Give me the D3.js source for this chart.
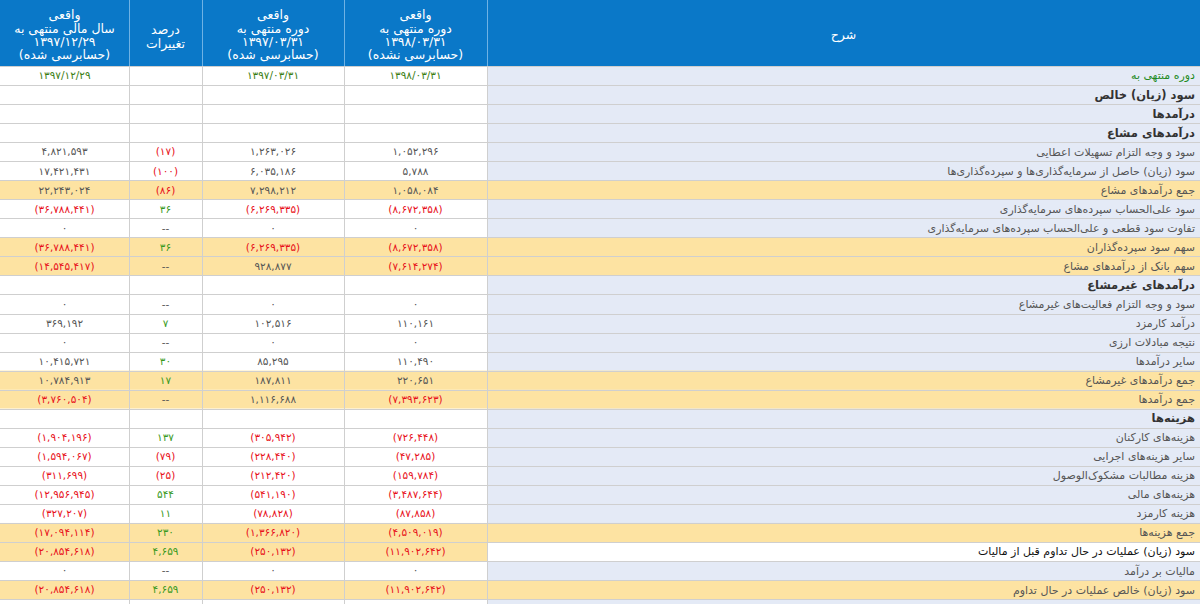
<!DOCTYPE html>
<html><head><meta charset="utf-8">
<script src="https://cdn.jsdelivr.net/npm/d3@7/dist/d3.min.js"></script>
<style>
html,body{margin:0;padding:0;background:#fff;overflow:hidden}
svg{display:block}
text{font-family:"DejaVu Sans","Noto Sans",sans-serif}
</style></head><body>
<svg id="chart" width="1200" height="604"></svg>
<script>
// ---------- data ----------
const columns = ["year", "pct", "prev", "cur", "label"];
const headers = [
  ["واقعی", "سال مالی منتهی به", "۱۳۹۷/۱۲/۲۹", "(حسابرسی شده)"],
  ["درصد", "تغییرات"],
  ["واقعی", "دوره منتهی به", "۱۳۹۷/۰۳/۳۱", "(حسابرسی شده)"],
  ["واقعی", "دوره منتهی به", "۱۳۹۸/۰۳/۳۱", "(حسابرسی نشده)"],
  ["شرح"]
];
const periodDates = { year: "۱۳۹۷/۱۲/۲۹", pct: "", prev: "۱۳۹۷/۰۳/۳۱", cur: "۱۳۹۸/۰۳/۳۱" };
const labels = [
  "دوره منتهی به",
  "سود (زیان) خالص",
  "درآمدها",
  "درآمدهای مشاع",
  "سود و وجه التزام تسهیلات اعطایی",
  "سود (زیان) حاصل از سرمایه‌گذاری‌ها و سپرده‌گذاری‌ها",
  "جمع درآمدهای مشاع",
  "سود علی‌الحساب سپرده‌های سرمایه‌گذاری",
  "تفاوت سود قطعی و علی‌الحساب سپرده‌های سرمایه‌گذاری",
  "سهم سود سپرده‌گذاران",
  "سهم بانک از درآمدهای مشاع",
  "درآمدهای غیرمشاع",
  "سود و وجه التزام فعالیت‌های غیرمشاع",
  "درآمد کارمزد",
  "نتیجه مبادلات ارزی",
  "سایر درآمدها",
  "جمع درآمدهای غیرمشاع",
  "جمع درآمدها",
  "هزینه‌ها",
  "هزینه‌های کارکنان",
  "سایر هزینه‌های اجرایی",
  "هزینه مطالبات مشکوک‌الوصول",
  "هزینه‌های مالی",
  "هزینه کارمزد",
  "جمع هزینه‌ها",
  "سود (زیان) عملیات در حال تداوم قبل از مالیات",
  "مالیات بر درآمد",
  "سود (زیان) خالص عملیات در حال تداوم"
];
const rowKinds = ["date","section","section","section","item","item","total","item","item","total","total",
  "section","item","item","item","item","total","total","section","item","item","item","item","item",
  "total","key","item","total"];
const cur  = [null,null,null,null,1052296,5788,1058084,-8672358,0,-8672358,-7614274,null,0,110161,0,110490,220651,-7393623,null,-726448,-47285,-159784,-3487644,-87858,-4509019,-11902642,0,-11902642];
const prev = [null,null,null,null,1263026,6035186,7298212,-6269335,0,-6269335,928877,null,0,102516,0,85295,187811,1116688,null,-305942,-228440,-212420,-541190,-78828,-1366820,-250132,0,-250132];
const pct  = [null,null,null,null,-17,-100,-86,36,"--",36,"--",null,"--",7,"--",30,17,"--",null,137,-79,-25,544,11,230,4659,"--",4659];
const year = [null,null,null,null,4821593,17421431,22243024,-36788441,0,-36788441,-14545417,null,0,369192,0,10415721,10784913,-3760504,null,-1904196,-1594067,-311699,-12956945,-327207,-17094114,-20854618,0,-20854618];

// ---------- layout ----------
const W = 1200, H = 604, headerH = 66, rowH = 19.04;
const colEdges = [0, 129, 202, 344, 487, 1200];
const C = {
  header: "#0a78c8", headerLine: "#6fb2e4", grid: "#cfcfcf", labelBg: "#e4eaf6",
  total: "#fde3a2", text: "#555", dark: "#333", red: "#e8101a", green: "#3a9a1e", date: "#3b7d12", dateLabel: "#1f8a1f"
};

const svg = d3.select("#chart");
const x = d3.scaleOrdinal().domain(columns).range(colEdges.slice(0, 5));
const colW = c => colEdges[columns.indexOf(c) + 1] - x(c);
const y = d3.scaleBand().domain(d3.range(labels.length)).range([headerH, headerH + rowH * labels.length]);

const fa = s => String(s).replace(/[0-9]/g, d => "۰۱۲۳۴۵۶۷۸۹"[+d]);
const fmtNum = v => v == null ? "" : (typeof v === "string" ? v : (v < 0 ? "(" + fa(d3.format(",")(-v)) + ")" : fa(d3.format(",")(v))));
const seriesByCol = { year, pct, prev, cur };

// background below rows
svg.append("rect").attr("x", x("label")).attr("y", headerH).attr("width", colW("label")).attr("height", H - headerH).attr("fill", C.labelBg);

// header
svg.append("rect").attr("x", 0).attr("y", 0).attr("width", W).attr("height", headerH).attr("fill", C.header);
columns.forEach((c, i) => {
  const lines = headers[i];
  const cx = x(c) + colW(c) / 2;
  const lh = 13.4;
  const yc = c === "pct" ? 36.5 : 35;
  const y0 = yc - (lines.length - 1) * lh / 2;
  const t = svg.append("text").attr("fill", "#fff").attr("font-size", 12.5).attr("text-anchor", "middle").attr("direction", "rtl");
  lines.forEach((ln, j) => {
    t.append("tspan").attr("x", cx).attr("y", y0 + j * lh).attr("dy", "0.35em").text(ln);
  });
  if (i > 0) svg.append("line").attr("x1", x(c) + 0.5).attr("x2", x(c) + 0.5).attr("y1", 0).attr("y2", headerH).attr("stroke", C.headerLine);
});

// rows
const rows = svg.selectAll("g.row").data(labels.map((l, i) => ({ i, label: l, kind: rowKinds[i] }))).join("g").attr("class", "row");

rows.each(function (d) {
  const g = d3.select(this);
  const yy = y(d.i), hh = y.bandwidth();
  columns.forEach(c => {
    let fill = "#fff";
    if (d.kind === "total") fill = C.total;
    else if (d.kind === "key") fill = c === "label" ? "#fff" : C.total;
    else if (c === "label") fill = C.labelBg;
    g.append("rect").attr("x", x(c)).attr("y", yy).attr("width", colW(c)).attr("height", hh).attr("fill", fill);
  });
  // numbers
  ["year", "pct", "prev", "cur"].forEach(c => {
    let txt, col = C.text;
    if (d.kind === "date") { txt = fa(periodDates[c]); col = C.date; }
    else {
      const v = seriesByCol[c][d.i];
      txt = fmtNum(v);
      if (typeof v === "number") {
        if (v < 0) col = C.red;
        else if (c === "pct") col = C.green;
      }
    }
    if (!txt) return;
    g.append("text").attr("x", x(c) + colW(c) / 2).attr("y", yy + hh / 2).attr("dy", "0.36em")
      .attr("text-anchor", "middle").attr("font-size", 10.5).attr("fill", col).text(txt);
  });
  // label
  const isSec = d.kind === "section";
  g.append("text").attr("x", W - 5).attr("y", yy + hh / 2).attr("dy", "0.36em")
    .attr("direction", "rtl").attr("text-anchor", "start")
    .attr("font-size", isSec ? 11.5 : 11)
    .attr("font-weight", isSec ? "bold" : "normal")
    .attr("fill", d.kind === "date" ? C.dateLabel : (isSec ? C.dark : (d.kind === "key" ? "#111" : C.text)))
    .text(d.label);
});

// grid
const gridG = svg.append("g").attr("stroke", C.grid).attr("shape-rendering", "crispEdges");
d3.range(labels.length + 1).forEach(i => {
  const yy = Math.round(headerH + i * rowH) + 0.5;
  gridG.append("line").attr("x1", 0).attr("x2", W).attr("y1", yy).attr("y2", yy);
});
colEdges.slice(1, 5).forEach(e => {
  gridG.append("line").attr("x1", e + 0.5).attr("x2", e + 0.5).attr("y1", headerH).attr("y2", H);
});
</script>
</body></html>
